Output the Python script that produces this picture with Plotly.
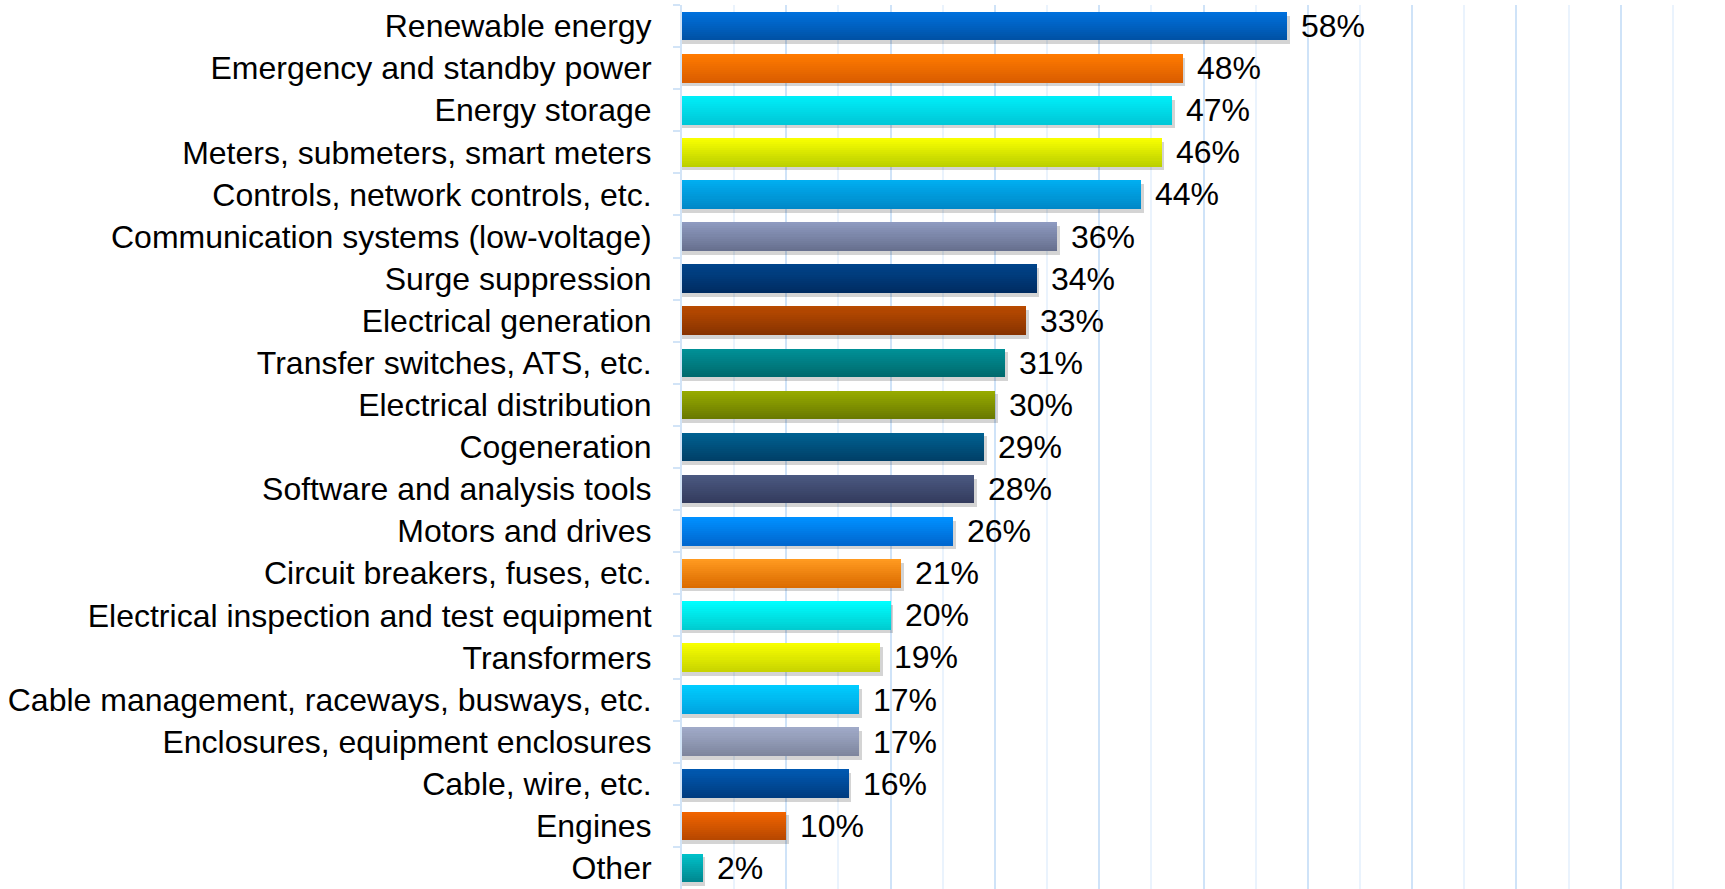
import plotly.graph_objects as go

# Survey categories, top to bottom
categories = [
    "Renewable energy",
    "Emergency and standby power",
    "Energy storage",
    "Meters, submeters, smart meters",
    "Controls, network controls, etc.",
    "Communication systems (low-voltage)",
    "Surge suppression",
    "Electrical generation",
    "Transfer switches, ATS, etc.",
    "Electrical distribution",
    "Cogeneration",
    "Software and analysis tools",
    "Motors and drives",
    "Circuit breakers, fuses, etc.",
    "Electrical inspection and test equipment",
    "Transformers",
    "Cable management, raceways, busways, etc.",
    "Enclosures, equipment enclosures",
    "Cable, wire, etc.",
    "Engines",
    "Other",
]

# Share of respondents (%)
values = [58, 48, 47, 46, 44, 36, 34, 33, 31, 30, 29, 28, 26, 21, 20, 19, 17, 17, 16, 10, 2]

# Gradient colours per bar: light edge (top) and dark edge (bottom)
top_colors = [
    "#0070DC", "#FF7A00", "#00EEF8", "#F8FF00", "#00AEF0", "#8E9AC0", "#00448A",
    "#B84A00", "#009096", "#96AA00", "#006090", "#4A5880", "#0090FF", "#FF9A20",
    "#00FFFF", "#F8FF00", "#00CCFF", "#A0AAC8", "#0058B0", "#F06400", "#00C0C8",
]
bottom_colors = [
    "#0052A6", "#DB5E00", "#00C8D8", "#BCD000", "#0088C8", "#67708E", "#002C62",
    "#883300", "#006A6E", "#6A7A00", "#004068", "#343C5E", "#0068D0", "#DC6C00",
    "#00CCD0", "#C8D400", "#00A4E0", "#7E869E", "#003C80", "#B84800", "#008890",
]

FONT = "Arial, 'Liberation Sans', sans-serif"
BAR_W = 0.68
N_SLICES = 14


def hex_to_rgb(h):
    h = h.lstrip("#")
    return tuple(int(h[i:i + 2], 16) for i in (0, 2, 4))


def mix(c1, c2, t):
    a, b = hex_to_rgb(c1), hex_to_rgb(c2)
    return "rgb({},{},{})".format(*(round(a[k] + (b[k] - a[k]) * t) for k in range(3)))


fig = go.Figure()

# soft drop shadow beneath each bar
fig.add_trace(go.Bar(
    y=categories,
    x=[v + 0.25 for v in values],
    orientation="h",
    width=BAR_W,
    offset=-BAR_W / 2 + 0.09,
    marker=dict(color="rgba(0,0,0,0.17)", line=dict(width=0)),
    hoverinfo="skip",
    showlegend=False,
))

# bars built from thin horizontal strips to give a vertical gradient
slice_w = BAR_W / N_SLICES
for i in range(N_SLICES):
    t = i / (N_SLICES - 1)
    fig.add_trace(go.Bar(
        y=categories,
        x=values,
        orientation="h",
        width=slice_w * 1.02,
        offset=-BAR_W / 2 + i * slice_w,
        marker=dict(color=[mix(a, b, t) for a, b in zip(top_colors, bottom_colors)],
                    line=dict(width=0)),
        hoverinfo="skip" if i else "x+y",
        showlegend=False,
    ))

# value labels to the right of each bar
for cat, v in zip(categories, values):
    fig.add_annotation(
        x=v, y=cat, xref="x", yref="y",
        text=f"{v}%", showarrow=False,
        xanchor="left", yanchor="middle", xshift=12,
        font=dict(family=FONT, size=32, color="#000000"),
    )

fig.update_layout(
    width=1725,
    height=889,
    margin=dict(l=682, r=0, t=5, b=0),
    barmode="overlay",
    bargap=0,
    plot_bgcolor="white",
    paper_bgcolor="white",
    font=dict(family=FONT, size=32, color="#000000"),
)

fig.update_xaxes(
    range=[0, 100],
    dtick=10,
    showticklabels=False,
    showgrid=True,
    gridcolor="#CFE3F8",
    gridwidth=2,
    zeroline=False,
    minor=dict(dtick=5, showgrid=True, gridcolor="#EAF3FD", gridwidth=2),
)

fig.update_yaxes(
    categoryorder="array",
    categoryarray=categories,
    autorange="reversed",
    showline=True,
    linecolor="#D2E4F7",
    linewidth=2,
    ticks="outside",
    tickson="boundaries",
    ticklen=7,
    tickwidth=2,
    tickcolor="#D2E4F7",
    ticklabelstandoff=22,
    showgrid=False,
    tickfont=dict(family=FONT, size=32, color="#000000"),
)

fig.write_html("out.html")
